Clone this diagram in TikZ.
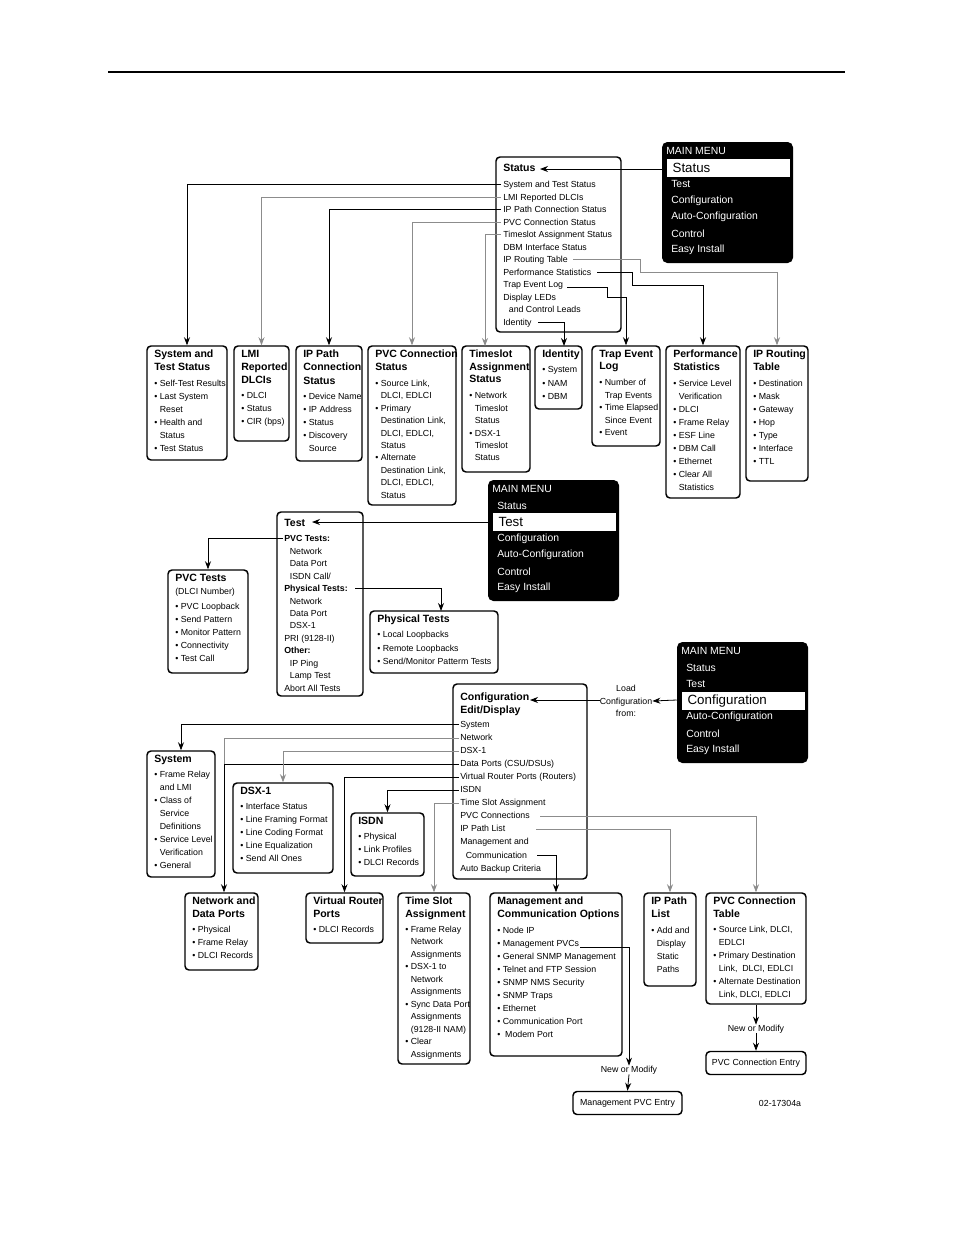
\documentclass[tikz,border=0pt]{standalone}
\usepackage{fontspec}
\setsansfont{Liberation Sans}
\usetikzlibrary{arrows.meta}
\tikzset{
  frame/.style={draw,rounded corners=3pt,line width=1.1pt,inner sep=0pt},
  body/.style={anchor=north west,inner sep=0pt,align=left,font=\sffamily\fontsize{6.6}{9.8}\selectfont},
  tight/.style={font=\sffamily\fontsize{6.6}{9.35}\selectfont},
  link/.style={line width=0.6pt,-{Stealth[length=6pt,width=4.5pt]}},
  linkg/.style={link,draw=black!45},
  menubg/.style={fill=black,rounded corners=4pt,inner sep=0pt},
  menutx/.style={anchor=west,inner sep=0pt,text=white,font=\sffamily\fontsize{7.8}{9}\selectfont},
  menuhl/.style={fill=white,anchor=west,inner xsep=4pt,inner ysep=0pt,align=left,text width={112*0.75pt},minimum height={18*0.75pt},font=\sffamily\fontsize{10}{11}\selectfont},
  note/.style={inner sep=0pt,align=center,font=\sffamily\fontsize{6.6}{9.4}\selectfont}
}
\newcommand\hd[1]{{\fontsize{7.9}{9.4}\selectfont\bfseries #1}}
\newcommand\bl{\textbullet\ }
\newcommand\ind{\hspace{4.2pt}}
% box: name, x1, y1, x2, y2, text  (optional style for the text)
\newcommand\boxat[7][]{%
  \node[frame,minimum width={(#5-#3)*0.75pt},minimum height={(#6-#4)*0.75pt}] (#2) at ({(#3+#5)/2},{(#4+#6)/2}) {};
  \node[body,#1] (#2-t) at ({#3+7},{#4+4}) {#7};}
% main menu: name, x, y, highlighted item
\newcommand\mainmenu[4]{%
  \node[menubg,minimum width={131*0.75pt},minimum height={121*0.75pt}] (#1) at ({#2+65.5},{#3+60.5}) {};
  \node[menutx] (#1-h) at ({#2+4},{#3+9}) {MAIN MENU};
  \foreach \lbl [count=\i] in {Status,Test,Configuration,Auto-Configuration,Control,Easy Install} {
    \ifnum\i=#4
      \node[menuhl] (#1-\i) at ({#2+5},{#3+9.5+16.4*\i}) {\lbl};
    \else
      \node[menutx] (#1-\i) at ({#2+9},{#3+9.5+16.4*\i}) {\lbl};
    \fi
  }}
\begin{document}
\begin{tikzpicture}[x=0.75pt,y=-0.75pt]
\path[use as bounding box,fill=white] (0,0) rectangle (954,1235);
\draw[line width=0.8pt] (108,72) -- (845,72);

% Status menu
\mainmenu{mm1}{662}{142}{1}
\boxat[tight,yshift=-2.5pt]{sts}{496}{157}{621}{332}{\hd{Status}\\[2.6pt] System and Test Status\\ LMI Reported DLCIs\\ IP Path Connection Status\\ PVC Connection Status\\ Timeslot Assignment Status\\ DBM Interface Status\\ IP Routing Table\\ Performance Statistics\\ Trap Event Log\\ Display LEDs\\ \ind and Control Leads\\ Identity}
\boxat{sys}{147}{346}{227}{460}{\hd{System and}\\ \hd{Test Status}\\[1.5pt] \bl Self-Test Results\\ \bl Last System\\ \ind Reset\\ \bl Health and\\ \ind Status\\ \bl Test Status}
\boxat{lmi}{234}{346}{289}{441}{\hd{LMI}\\ \hd{Reported}\\ \hd{DLCIs}\\[1.5pt] \bl DLCI\\ \bl Status\\ \bl CIR (bps)}
\boxat{ipc}{296}{346}{362}{461}{\hd{IP Path}\\ \hd{Connection}\\ \hd{Status}\\[1.5pt] \bl Device Name\\ \bl IP Address\\ \bl Status\\ \bl Discovery\\ \ind Source}
\boxat[tight]{pvs}{368}{346}{456}{505}{\hd{PVC Connection}\\ \hd{Status}\\[2.5pt] \bl Source Link,\\ \ind DLCI, EDLCI\\ \bl Primary\\ \ind Destination Link,\\ \ind DLCI, EDLCI,\\ \ind Status\\ \bl Alternate\\ \ind Destination Link,\\ \ind DLCI, EDLCI,\\ \ind Status}
\boxat[tight]{tss}{462}{346}{530}{472}{\hd{Timeslot}\\ \hd{Assignment}\\ \hd{Status}\\[2.5pt] \bl Network\\ \ind Timeslot\\ \ind Status\\ \bl DSX-1\\ \ind Timeslot\\ \ind Status}
\boxat{idn}{535}{346}{582}{409}{\hd{Identity}\\[1.5pt] \bl System\\ \bl NAM\\ \bl DBM}
\boxat[tight]{trp}{592}{346}{660}{446}{\hd{Trap Event}\\ \hd{Log}\\[2.5pt] \bl Number of\\ \ind Trap Events\\ \bl Time Elapsed\\ \ind Since Event\\ \bl Event}
\boxat{prf}{666}{346}{740}{498}{\hd{Performance}\\ \hd{Statistics}\\[1.5pt] \bl Service Level\\ \ind Verification\\ \bl DLCI\\ \bl Frame Relay\\ \bl ESF Line\\ \bl DBM Call\\ \bl Ethernet\\ \bl Clear All\\ \ind Statistics}
\boxat{ipr}{746}{346}{808}{481}{\hd{IP Routing}\\ \hd{Table}\\[1.5pt] \bl Destination\\ \bl Mask\\ \bl Gateway\\ \bl Hop\\ \bl Type\\ \bl Interface\\ \bl TTL}

\draw[link] (mm1.west |- 0,169) -- (540,169);
\draw[link] (501,184) -| (sys.north);
\draw[linkg] (501,197) -| (lmi.north);
\draw[link] (501,209) -| (ipc.north);
\draw[linkg] (501,222) -| (pvs.north);
\draw[linkg] (501,234) -| (485,346);
\draw[link] (538,322) -| (564,346);
\draw[link] (567,287) -- (607,287) -- (607,297) -| (trp.north);
\draw[link] (597,272) -- (632,272) -- (632,285) -| (prf.north);
\draw[linkg] (573,259) -- (640,259) -- (640,272) -| (ipr.north);

% Test menu
\mainmenu{mm2}{488}{480}{2}
\boxat[tight,yshift=-2.5pt]{tst}{277}{512}{363}{696}{\hd{Test}\\[1.8pt] \textbf{PVC Tests:}\\ \ind Network\\ \ind Data Port\\ \ind ISDN Call/\\ \textbf{Physical Tests:}\\ \ind Network\\ \ind Data Port\\ \ind DSX-1\\ PRI (9128-II)\\ \textbf{Other:}\\ \ind IP Ping\\ \ind Lamp Test\\ Abort All Tests}
\boxat{pvt}{168}{570}{248}{673}{\hd{PVC Tests}\\ (DLCI Number)\\[1.2pt] \bl PVC Loopback\\ \bl Send Pattern\\ \bl Monitor Pattern\\ \bl Connectivity\\ \bl Test Call}
\boxat{pht}{370}{611}{498}{673}{\hd{Physical Tests}\\[1.5pt] \bl Local Loopbacks\\ \bl Remote Loopbacks\\ \bl Send/Monitor Patterm Tests}
\draw[link] (mm2.west |- 0,522) -- (312,522);
\draw[link] (283,538) -| (pvt.north);
\draw[link] (355,588) -| (441,611);

% Configuration menu
\mainmenu{mm3}{677}{642}{3}
\node[note] (load) at (626,701) {Load\\ Configuration\\ from:};
\boxat[yshift=-3.5pt]{cfg}{453}{684}{587}{879}{\hd{Configuration}\\ \hd{Edit/Display}\\[0.5pt] System\\ Network\\ DSX-1\\ Data Ports (CSU/DSUs)\\ Virtual Router Ports (Routers)\\ ISDN\\ Time Slot Assignment\\ PVC Connections\\ IP Path List\\ Management and\\ \ind Communication\\ Auto Backup Criteria}
\boxat{csy}{147}{751}{215}{877}{\hd{System}\\[1.2pt] \bl Frame Relay\\ \ind and LMI\\ \bl Class of\\ \ind Service\\ \ind Definitions\\ \bl Service Level\\ \ind Verification\\ \bl General}
\boxat{dsx}{233}{783}{333}{873}{\hd{DSX-1}\\[1.2pt] \bl Interface Status\\ \bl Line Framing Format\\ \bl Line Coding Format\\ \bl Line Equalization\\ \bl Send All Ones}
\boxat{isd}{351}{813}{424}{876}{\hd{ISDN}\\[1.2pt] \bl Physical\\ \bl Link Profiles\\ \bl DLCI Records}
\boxat{ndp}{185}{893}{258}{970}{\hd{Network and}\\ \hd{Data Ports}\\[1.2pt] \bl Physical\\ \bl Frame Relay\\ \bl DLCI Records}
\boxat{vrp}{306}{893}{383}{943}{\hd{Virtual Router}\\ \hd{Ports}\\[1.2pt] \bl DLCI Records}
\boxat[tight]{tsa}{398}{893}{470}{1064}{\hd{Time Slot}\\ \hd{Assignment}\\[2pt] \bl Frame Relay\\ \ind Network\\ \ind Assignments\\ \bl DSX-1 to\\ \ind Network\\ \ind Assignments\\ \bl Sync Data Port\\ \ind Assignments\\ \ind (9128-II NAM)\\ \bl Clear\\ \ind Assignments}
\boxat{mco}{490}{893}{622}{1056}{\hd{Management and}\\ \hd{Communication Options}\\[1.8pt] \bl Node IP\\ \bl Management PVCs\\ \bl General SNMP Management\\ \bl Telnet and FTP Session\\ \bl SNMP NMS Security\\ \bl SNMP Traps\\ \bl Ethernet\\ \bl Communication Port\\ \bl\ Modem Port}
\boxat{ipl}{644}{893}{696}{986}{\hd{IP Path}\\ \hd{List}\\[1.8pt] \bl Add and\\ \ind Display\\ \ind Static\\ \ind Paths}
\boxat{pvct}{706}{893}{806}{1004}{\hd{PVC Connection}\\ \hd{Table}\\[1.2pt] \bl Source Link, DLCI,\\ \ind EDLCI\\ \bl Primary Destination\\ \ind Link,\ \ DLCI, EDLCI\\ \bl Alternate Destination\\ \ind Link, DLCI, EDLCI}
\node[frame,minimum width={109*0.75pt},minimum height={23*0.75pt},font=\sffamily\fontsize{6.6}{8}\selectfont] (mpe) at (627.5,1103) {Management PVC Entry};
\node[frame,minimum width={100*0.75pt},minimum height={23*0.75pt},font=\sffamily\fontsize{6.6}{8}\selectfont] (pce) at (756,1063) {PVC Connection Entry};
\node[note] (nm1) at (629,1070) {New or Modify};
\node[note] (nm2) at (756,1029) {New or Modify};
\node[note] (fig) at (780,1103) {02-17304a};

\draw[link] (mm3.west |- 0,700) -- (load.east);
\draw[link] (load.west |- 0,700) -- (530,700);
\draw[link] (459,724) -| (csy.north);
\draw[draw=black!45,line width=0.6pt] (459,738) -| (224,764);
\draw[link] (459,764) -| (ndp.north -| 224,0);
\draw[linkg] (459,751) -| (dsx.north);
\draw[link] (459,777) -| (vrp.north);
\draw[link] (459,790) -| (isd.north);
\draw[linkg] (459,803) -| (tsa.north);
\draw[linkg] (540,816) -| (pvct.north);
\draw[linkg] (536,829) -| (ipl.north);
\draw[link] (537,855) -| (mco.north);
\draw[link] (580,947) -| (nm1.north);
\draw[link] (nm1.south) -- (mpe.north);
\draw[link] (pvct.south) -- (nm2.north);
\draw[link] (nm2.south) -- (pce.north);
\end{tikzpicture}
\end{document}
